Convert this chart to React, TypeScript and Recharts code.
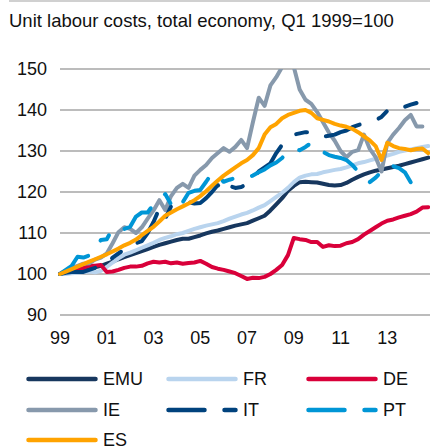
import { LineChart, Line, XAxis, YAxis, CartesianGrid } from "recharts";

// quarterly, Q1 1999 .. Q4 2014 (index 0..63)
const xLabels = ["99", "01", "03", "05", "07", "09", "11", "13"];
const yTicks = [90, 100, 110, 120, 130, 140, 150];

const EMU = [
  100, 100.3, 100.5, 100.8, 101, 101.3, 101.6, 102, 102.5, 103,
  103.6, 104.1, 104.6, 105.1, 105.6, 106.1, 106.6, 107.1, 107.5, 107.9,
  108.3, 108.6, 108.6, 109, 109.4, 109.9, 110.3, 110.6, 111, 111.4,
  111.8, 112.1, 112.4, 113, 113.6, 114.2, 115.5, 117, 118.5, 120.3,
  121.5, 122.4, 122.5, 122.4, 122.3, 122, 121.7, 121.6, 121.7, 122.2,
  123, 123.7, 124.3, 124.8, 125.2, 125.5, 125.8, 126.1, 126.4, 126.8,
  127.2, 127.6, 128, 128.4,
];
const FR = [
  100, 100, 100.2, 100.3, 100.5, 100.6, 100.4, 100.8, 101.7, 102.8,
  103.8, 104.7, 105.2, 105.8, 106.4, 107, 107.6, 108.3, 108.8, 109.2,
  109.7, 110, 110.5, 111, 111.4, 111.8, 112.1, 112.4, 112.9, 113.5,
  114, 114.5, 114.9, 115.5, 116.2, 116.8, 117.8, 118.8, 119.8, 121,
  122.4, 123.5, 124, 124.3, 124.4, 124.8, 125.1, 125.4, 125.6, 126,
  126.5, 127, 127.3, 127.7, 128.1, 128.5, 128.9, 129.3, 129.8, 130.1,
  130.4, 130.7, 131, 131.2,
];
const DE = [
  100, 100.8, 101, 101, 101.5, 102, 102, 102.2, 100.5, 100.6,
  101, 101.5, 101.8, 101.8, 102, 102.6, 103, 102.8, 103, 102.6,
  102.8, 102.5, 102.7, 102.8, 103.2, 102.5, 101.7, 101.3, 101, 100.6,
  100.2, 99.5, 98.8, 99.1, 99, 99.3, 100, 101, 102.2, 104.6,
  108.8, 108.5, 108.3, 107.8, 107.8, 106.6, 107, 106.8, 106.9, 107.5,
  107.8, 108.5, 109.6, 110.5, 111.4, 112.3, 113, 113.3, 113.8, 114.2,
  114.6, 115.2, 116.2, 116.3,
];
const IE = [
  100, 100.5, 101.5, 102, 102.5, 102.6, 103.5, 104, 105, 107.5,
  110.2, 111.4, 111, 110, 111.4, 113.5, 115.5, 118, 115.6, 119,
  121, 122, 121, 124, 125.4, 126.6, 128.3, 129.5, 130.7, 129.8,
  131, 132.7, 130.7, 137, 143, 141, 146, 148, 150.5, 153,
  150.5, 145, 142.5, 141.5, 139.5, 137, 134.5, 132.5, 130, 128.5,
  129.8, 130.2, 134, 130.5, 128.5, 125, 132, 134, 135.6, 137.5,
  138.8, 136, 136, null,
];
const IT = [
  100, 100.3, 100.5, 100.5, 100.5, 101, 101.5, 102, 102.5, 104,
  105, 106, 107.5, 107.5, 108, 110, 112.7, 116, 113.5, 116.5,
  117, 117.3, 117.5, 117.2, 117.3, 118.5, 120, 121.7, 120, 121.5,
  121, 121.2, 122, 123.4, 125, 126, 127, 129.5, 131.5, 132.7,
  134, 134.3, 134.6, 134.6, 134.4, 133.5, 133.7, 134, 134.6, 135,
  135.8, 136.3, 136.8, 137, 137.5, 138.3, 139.8, 139.5, 140, 140.8,
  141.3, 141.7, null, null,
];
const PT = [
  100, 101, 102, 104.2, 104, 104.5, 106, 108.3, 108.5, 111,
  111.5, 111, 111.5, 114, 115, 115, 117, 118, 119.5, 117,
  115.6, 117.5, 119.8, 120.3, 120.5, 122.5, 124.6, 124, 122.5, 123,
  123.4, 123.7, 123.5, 124, 124.8, 125.5, 126.5, 127.2, 128.3, 130,
  130.5, 130.2, 131, 132, 130.6, 129.8, 129, 128.6, 128.3, 127.8,
  126.6, 125, 123, 122.4, 123.5, 125, 126.6, 126.3, 125.8, 124.8,
  122.4, null, null, null,
];
const ES = [
  100, 100.6, 101.2, 101.8, 102.4, 103, 103.6, 104.2, 104.8, 105.5,
  106.2, 107, 107.6, 108.4, 109.5, 110.5, 111.5, 112.8, 114.2, 115,
  115.8, 116.5, 117.2, 118, 119, 120.2, 121.5, 122.8, 124, 125,
  126, 127, 127.8, 129, 130.7, 134, 135.8, 136.6, 138, 138.8,
  139.3, 139.8, 140, 139.3, 138, 137.6, 137.2, 136.6, 136.2, 135.9,
  135.4, 134.6, 133.6, 132.6, 131.2, 127.8, 132, 131.2, 130.7, 130.5,
  130.2, 130.5, 130.6, 129.5,
];

const series = [
  { key: "EMU", data: EMU, color: "#17375e", dash: undefined },
  { key: "FR", data: FR, color: "#b9d4ee", dash: undefined },
  { key: "DE", data: DE, color: "#d9003a", dash: undefined },
  { key: "IE", data: IE, color: "#8799ac", dash: undefined },
  { key: "IT", data: IT, color: "#00427d", dash: "36 20 11 20" },
  { key: "PT", data: PT, color: "#0096d6", dash: "36 20 11 20" },
  { key: "ES", data: ES, color: "#ffa300", dash: undefined },
];

const rows = EMU.map((_, i) => {
  const r: Record<string, number | null> = { i };
  series.forEach((s) => (r[s.key] = s.data[i]));
  return r;
});

const font = "'Liberation Sans', Arial, sans-serif";
const legendCols = [26, 166, 306];
const legendRows = [369, 400, 430];

export default function App() {
  return (
    <div
      style={{
        position: "absolute",
        left: 0,
        top: 0,
        width: 430,
        height: 447,
        background: "#fff",
        fontFamily: font,
        overflow: "hidden",
      }}
    >
      <div
        style={{
          position: "absolute",
          left: 9,
          top: 0,
          width: 421,
          borderTop: "2px solid #d0d0d0",
        }}
      />
      <div
        style={{
          position: "absolute",
          left: 9,
          top: 10,
          fontSize: 18.5,
          lineHeight: "21px",
          color: "#111",
          whiteSpace: "nowrap",
        }}
      >
        Unit labour costs, total economy, Q1 1999=100
      </div>

      <LineChart
        width={430}
        height={447}
        data={rows}
        margin={{ top: 69, right: 0, left: 0, bottom: 102 }}
      >
        <CartesianGrid
          vertical={false}
          stroke="#a6a6a6"
          strokeWidth={1.5}
        />
        <XAxis
          type="number"
          dataKey="i"
          domain={[0, 63.3]}
          ticks={[0, 8, 16, 24, 32, 40, 48, 56]}
          tickFormatter={(v) => xLabels[v / 8]}
          axisLine={false}
          tickLine={false}
          tickMargin={10}
          height={30}
          tick={{ fontSize: 18, fill: "#111", fontFamily: font }}
        />
        <YAxis
          domain={[90, 150]}
          ticks={yTicks}
          allowDataOverflow
          axisLine={false}
          tickLine={false}
          tickMargin={7}
          width={60}
          tick={{ fontSize: 18, fill: "#111", fontFamily: font }}
        />
        {series.map((s) => (
          <Line
            key={s.key}
            type="linear"
            dataKey={s.key}
            stroke={s.color}
            strokeWidth={4}
            strokeDasharray={s.dash}
            strokeLinecap="round"
            strokeLinejoin="round"
            dot={false}
            isAnimationActive={false}
          />
        ))}
      </LineChart>

      {/* legend */}
      {series.map((s, idx) => (
        <div
          key={s.key}
          style={{
            position: "absolute",
            left: legendCols[idx % 3],
            top: legendRows[Math.floor(idx / 3)],
            height: 20,
            display: "flex",
            alignItems: "center",
            fontSize: 18,
            color: "#111",
          }}
        >
          <svg width={74} height={20}>
            <line
              x1={2.5}
              x2={69.5}
              y1={10}
              y2={10}
              stroke={s.color}
              strokeWidth={4.5}
              strokeLinecap="round"
              strokeDasharray={s.dash}
            />
          </svg>
          <span style={{ marginLeft: 3 }}>{s.key}</span>
        </div>
      ))}
    </div>
  );
}
